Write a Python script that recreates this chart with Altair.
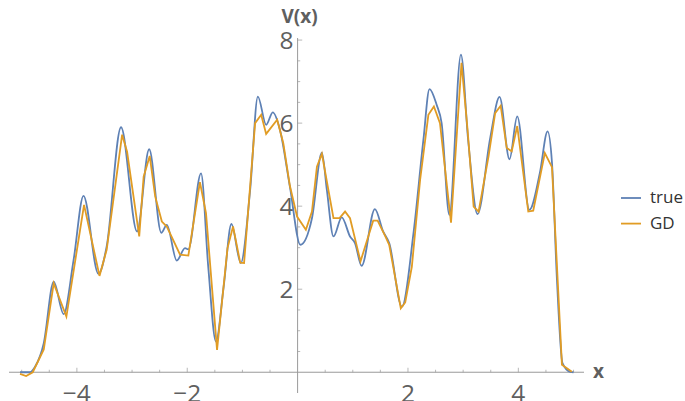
import altair as alt
import pandas as pd

# Exact potential V(x), sampled at its turning points
true_x = [-5.03, -4.85, -4.75, -4.60, -4.42, -4.24, -4.06, -3.88, -3.61, -3.46,
          -3.20, -2.91, -2.69, -2.47, -2.37, -2.19, -2.04, -1.98, -1.75, -1.62,
          -1.48, -1.34, -1.20, -1.03, -0.86, -0.72, -0.57, -0.45, -0.32, -0.14,
          0.05, 0.26, 0.44, 0.53, 0.65, 0.80, 0.95, 1.04, 1.16, 1.40,
          1.55, 1.66, 1.89, 2.10, 2.28, 2.39, 2.52, 2.61, 2.75, 2.96,
          3.09, 3.26, 3.49, 3.66, 3.84, 3.98, 4.20, 4.39, 4.53, 4.61,
          4.70, 4.80, 4.94, 5.00]
true_v = [0.00, 0.00, 0.15, 0.70, 2.18, 1.40, 2.70, 4.25, 2.37, 3.03,
          5.90, 3.39, 5.37, 3.36, 3.55, 2.69, 2.99, 2.96, 4.79, 2.55,
          0.74, 2.06, 3.57, 2.63, 4.39, 6.64, 5.96, 6.26, 5.84, 4.47,
          3.07, 3.71, 5.29, 4.39, 3.27, 3.73, 3.27, 3.11, 2.56, 3.93,
          3.39, 3.11, 1.58, 3.35, 5.60, 6.82, 6.44, 6.00, 3.79, 7.65,
          5.60, 3.81, 5.64, 6.63, 5.13, 6.16, 3.91, 4.80, 5.80, 5.04,
          2.22, 0.22, 0.01, 0.00]

# Gradient-descent reconstruction (piecewise linear)
gd_x = [-5.03, -4.92, -4.80, -4.60, -4.42, -4.19, -3.87, -3.59, -3.46, -3.18,
        -3.09, -2.87, -2.79, -2.68, -2.58, -2.46, -2.37, -2.13, -1.98, -1.77,
        -1.66, -1.46, -1.27, -1.17, -1.04, -0.97, -0.77, -0.66, -0.57, -0.37,
        -0.26, -0.14, -0.01, 0.15, 0.26, 0.35, 0.44, 0.65, 0.76, 0.86,
        0.95, 1.14, 1.37, 1.45, 1.59, 1.66, 1.87, 1.95, 2.07, 2.22,
        2.37, 2.47, 2.58, 2.78, 2.97, 3.08, 3.19, 3.28, 3.46, 3.58,
        3.68, 3.79, 3.88, 3.98, 4.18, 4.27, 4.48, 4.61, 4.79, 4.97]
gd_v = [-0.04, -0.09, 0.00, 0.55, 2.14, 1.34, 4.03, 2.32, 2.95, 5.72,
        5.31, 3.27, 4.71, 5.21, 4.23, 3.63, 3.51, 2.83, 2.81, 4.58,
        3.83, 0.54, 2.99, 3.51, 2.64, 2.63, 6.00, 6.20, 5.74, 6.08,
        5.52, 4.49, 3.75, 3.43, 3.87, 4.95, 5.26, 3.71, 3.71, 3.87,
        3.71, 2.67, 3.65, 3.65, 3.27, 3.07, 1.54, 1.68, 2.54, 4.63,
        6.20, 6.40, 6.00, 3.60, 7.45, 5.84, 3.99, 3.87, 5.20, 6.24,
        6.42, 5.40, 5.32, 5.93, 3.87, 3.89, 5.28, 4.94, 0.18, 0.01]

series_names = ["true", "GD"]
series_colors = ["#5E81B5", "#E19C24"]

x_domain = [-5.23, 5.19]
y_domain = [-0.5, 8.05]
x_major = [-4, -2, 2, 4]
x_minor = [-5, -4.5, -3.5, -3, -2.5, -1.5, -1, -0.5,
           0.5, 1, 1.5, 2.5, 3, 3.5, 4.5, 5]
y_major = [2, 4, 6, 8]
y_minor = [0.5, 1, 1.5, 2.5, 3, 3.5, 4.5, 5, 5.5, 6.5, 7, 7.5]

AXIS_GRAY = "#9a9a9a"
LABEL_GRAY = "#5f5f5f"
FONT = "Open Sans"

true_df = pd.DataFrame({"x": true_x, "V": true_v, "series": series_names[0]})
gd_df = pd.DataFrame({"x": gd_x, "V": gd_v, "series": series_names[1]})

xs = alt.Scale(domain=x_domain, nice=False, zero=False)
ys = alt.Scale(domain=y_domain, nice=False, zero=False)
X = lambda f: alt.X(f, type="quantitative", scale=xs, axis=None)
Y = lambda f: alt.Y(f, type="quantitative", scale=ys, axis=None)

color = alt.Color(
    "series:N",
    scale=alt.Scale(domain=series_names, range=series_colors),
    sort=series_names,
    legend=alt.Legend(
        title=None, orient="none", legendX=611, legendY=149,
        symbolType="stroke", symbolSize=400, symbolStrokeWidth=1.8,
        labelFont=FONT, labelFontSize=17, labelColor="#333333",
        labelOffset=8, rowPadding=6.6, padding=0,
    ),
)

true_line = alt.Chart(true_df).mark_line(
    interpolate="monotone", strokeWidth=1.8, clip=True
).encode(x=X("x"), y=Y("V"), color=color)

gd_line = alt.Chart(gd_df).mark_line(strokeWidth=1.8, clip=True).encode(
    x=X("x"), y=Y("V"), color=color
)

# Axes crossing at the origin
x_axis_line = alt.Chart(
    pd.DataFrame({"a": [x_domain[0]], "b": [x_domain[1]], "y": [0]})
).mark_rule(color=AXIS_GRAY, strokeWidth=1).encode(x=X("a"), x2="b:Q", y=Y("y"))

y_axis_line = alt.Chart(
    pd.DataFrame({"a": [y_domain[0]], "b": [y_domain[1]], "x": [0]})
).mark_rule(color=AXIS_GRAY, strokeWidth=1).encode(y=Y("a"), y2="b:Q", x=X("x"))


def xtick(vals, size):
    df = pd.DataFrame({"t": vals, "z": [0] * len(vals)})
    return alt.Chart(df).mark_tick(
        orient="vertical", size=size, thickness=1, color=AXIS_GRAY, yOffset=-size / 2
    ).encode(x=X("t"), y=Y("z"))


def ytick(vals, size):
    df = pd.DataFrame({"t": vals, "z": [0] * len(vals)})
    return alt.Chart(df).mark_tick(
        orient="horizontal", size=size, thickness=1, color=AXIS_GRAY, xOffset=size / 2
    ).encode(y=Y("t"), x=X("z"))


def fmt(v):
    return f"{v:g}".replace("-", "\u2212")


x_labels = alt.Chart(
    pd.DataFrame({"t": x_major, "z": [0] * len(x_major), "lab": [fmt(v) for v in x_major]})
).mark_text(
    font=FONT, fontSize=24.5, color=LABEL_GRAY, align="center", baseline="alphabetic", dy=29.4
).encode(x=X("t"), y=Y("z"), text="lab:N")

y_labels = alt.Chart(
    pd.DataFrame({"t": y_major, "z": [0] * len(y_major), "lab": [fmt(v) for v in y_major]})
).mark_text(
    font=FONT, fontSize=24.5, color=LABEL_GRAY, align="right", baseline="alphabetic", dx=-4, dy=8.8
).encode(y=Y("t"), x=X("z"), text="lab:N")

x_title = alt.Chart(
    pd.DataFrame({"x": [x_domain[1]], "y": [0], "lab": ["x"]})
).mark_text(
    font=FONT, fontSize=19, fontWeight="bold", color=LABEL_GRAY,
    align="left", baseline="alphabetic", dx=9, dy=5.7,
).encode(x=X("x"), y=Y("y"), text="lab:N")

y_title = alt.Chart(
    pd.DataFrame({"x": [0], "y": [y_domain[1]], "lab": ["V(x)"]})
).mark_text(
    font=FONT, fontSize=19, fontWeight="bold", color=LABEL_GRAY,
    align="center", baseline="alphabetic", dx=2, dy=-15.5,
).encode(x=X("x"), y=Y("y"), text="lab:N")

chart = alt.layer(
    x_axis_line, y_axis_line,
    xtick(x_minor, 2.6), xtick(x_major, 4.6),
    ytick(y_minor, 2.6), ytick(y_major, 4.6),
    x_labels, y_labels, x_title, y_title,
    true_line, gd_line,
).properties(
    width=575, height=355,
    background="white",
    padding={"left": 9, "top": 38, "right": 101, "bottom": 8},
    autosize=alt.AutoSizeParams(type="none"),
).configure_view(stroke=None, strokeWidth=0)

chart.save("out.html", embed_options={"renderer": "svg", "actions": False})
